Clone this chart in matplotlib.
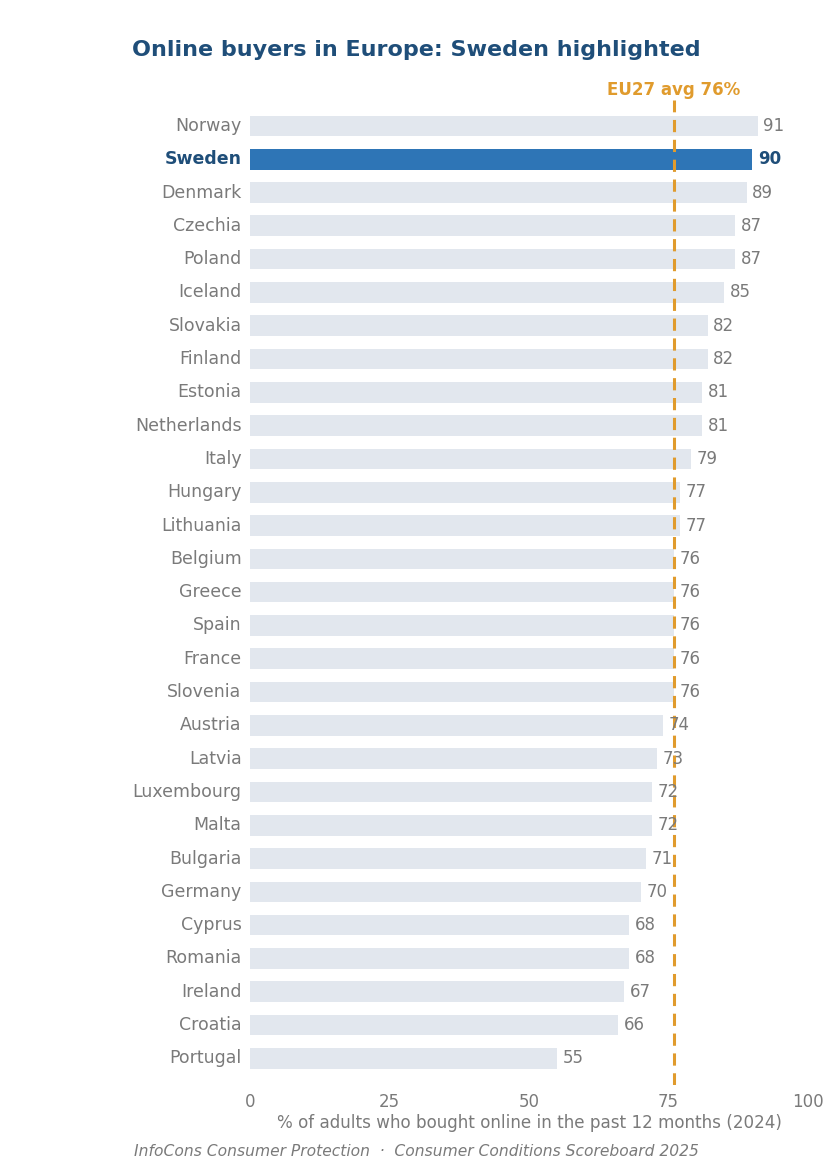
import matplotlib.pyplot as plt
import numpy as np

countries = ["Norway", "Sweden", "Denmark", "Czechia", "Poland", "Iceland", "Slovakia",
             "Finland", "Estonia", "Netherlands", "Italy", "Hungary", "Lithuania",
             "Belgium", "Greece", "Spain", "France", "Slovenia", "Austria", "Latvia",
             "Luxembourg", "Malta", "Bulgaria", "Germany", "Cyprus", "Romania",
             "Ireland", "Croatia", "Portugal"]
values = [91, 90, 89, 87, 87, 85, 82, 82, 81, 81, 79, 77, 77, 76, 76, 76, 76, 76,
          74, 73, 72, 72, 71, 70, 68, 68, 67, 66, 55]
highlight = "Sweden"
eu_avg = 76
xticks = [0, 25, 50, 75, 100]

GREY_BAR = "#E2E7EE"
BLUE = "#2E75B6"
NAVY = "#1F4E79"
ORANGE = "#E09B2D"
TEXT = "#7A7A7A"

plt.rcParams["font.family"] = ["DejaVu Sans"]

fig = plt.figure(figsize=(8.33, 11.73), dpi=100)
ax = fig.add_axes([0.300, 0.075, 0.670, 0.8398])

y = np.arange(len(countries))
colors = [BLUE if c == highlight else GREY_BAR for c in countries]
ax.barh(y, values, height=0.62, color=colors, zorder=1)
ax.set_ylim(len(countries) - 0.2, -0.78)
ax.set_xlim(0, 100)

ax.axvline(eu_avg, color=ORANGE, lw=2.2, ls=(0, (4, 2.5)), zorder=3)
ax.text(eu_avg, -0.8, f"EU27 avg {eu_avg}%", color=ORANGE, fontsize=12,
        fontweight="bold", ha="center", va="bottom")

for yi, c, v in zip(y, countries, values):
    hl = c == highlight
    ax.text(v + 1, yi, str(v), va="center", ha="left", fontsize=12,
            color=NAVY if hl else TEXT, fontweight="bold" if hl else "normal", zorder=4)

ax.set_yticks(y)
ax.set_yticklabels(countries, fontsize=12.5, va="center")
for lab in ax.get_yticklabels():
    if lab.get_text() == highlight:
        lab.set_color(NAVY)
        lab.set_fontweight("bold")
    else:
        lab.set_color(TEXT)

ax.set_xticks(xticks)
ax.set_xticklabels([str(t) for t in xticks], fontsize=12, color=TEXT)
ax.tick_params(axis="x", length=0, pad=6)
ax.tick_params(axis="y", length=0, pad=6)
ax.set_xlabel("% of adults who bought online in the past 12 months (2024)",
              fontsize=12.1, color=TEXT, labelpad=2)
for s in ax.spines.values():
    s.set_visible(False)

fig.text(0.5, 0.957, "Online buyers in Europe: Sweden highlighted", ha="center",
         va="center", fontsize=16, fontweight="bold", color=NAVY)
fig.text(0.5, 0.0185, "InfoCons Consumer Protection  ·  Consumer Conditions Scoreboard 2025",
         ha="center", va="center", fontsize=11.2, style="italic", color=TEXT)

fig.savefig("out.png", dpi=100)
